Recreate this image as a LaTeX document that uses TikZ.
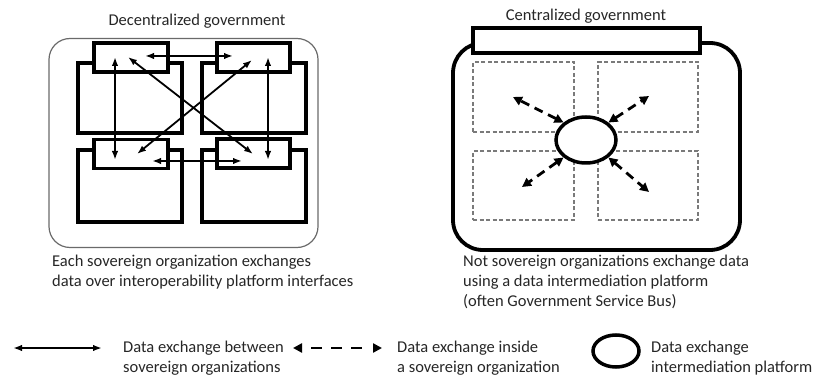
\documentclass[tikz,border=0pt]{standalone}
\usepackage{fontspec}
\setmainfont{Carlito}
\usetikzlibrary{arrows.meta,shapes.misc,shapes.geometric,calc}

\definecolor{inkgray}{HTML}{262626}
\definecolor{framegray}{HTML}{6A6A6A}
\definecolor{dashgray}{HTML}{7A7A7A}

\tikzset{
  label text/.style={font=\fontsize{16.5}{20}\selectfont, text=inkgray, inner sep=0pt},
  caption text/.style={label text, align=left, anchor=north west},
  org body/.style={draw=black, line width=3.8pt, fill=white, inner sep=0pt},
  org tab/.style={draw=black, line width=3.8pt, fill=white, inner sep=0pt,
    chamfered rectangle, chamfered rectangle corners={north west,north east},
    chamfered rectangle xsep=6pt, chamfered rectangle ysep=6pt},
  soft frame/.style={draw=framegray, line width=1.2pt, rounded corners=21pt, inner sep=0pt},
  bold frame/.style={draw=black, line width=3.8pt, rounded corners=30pt, inner sep=0pt},
  sub unit/.style={draw=dashgray, line width=1.1pt, dash pattern=on 4pt off 2.5pt, inner sep=0pt},
  hub/.style={draw=black, line width=3.5pt, ellipse, fill=white, inner sep=0pt},
  link/.style={line width=1.8pt, {Latex[length=9pt,width=6.5pt]}-{Latex[length=9pt,width=6.5pt]}},
  inner link/.style={line width=2.8pt, dash pattern=on 9pt off 6pt,
    {Triangle[length=9pt,width=9pt]}-{Triangle[length=9pt,width=9pt]}},
}

\begin{document}
\begin{tikzpicture}[x=1pt,y=-1pt]
\useasboundingbox (0,0) rectangle (816,379);

% ---------------- decentralized government ----------------
\node[label text] (titleL) at (197,21) {Decentralized government};
\node[soft frame, minimum width=269pt, minimum height=209pt] (frameL) at (183.5,143) {};

% four sovereign organizations: body plus interface tab
\node[org body, minimum width=104pt, minimum height=70pt] (bodyTL) at (130,98) {};
\node[org body, minimum width=104pt, minimum height=70pt] (bodyTR) at (254,98) {};
\node[org body, minimum width=104pt, minimum height=72pt] (bodyBL) at (130,186) {};
\node[org body, minimum width=104pt, minimum height=72pt] (bodyBR) at (254,186) {};
\node[org tab, minimum width=74pt, minimum height=29pt] (tabTL) at (131,57.5) {};
\node[org tab, minimum width=73pt, minimum height=29pt] (tabTR) at (253.5,57.5) {};
\node[org tab, minimum width=74pt, minimum height=29pt] (tabBL) at (131,154) {};
\node[org tab, minimum width=73pt, minimum height=29pt] (tabBR) at (253.5,153.5) {};

% interface end points
\coordinate (tlV) at (115,57);   \coordinate (blV) at (115,160);
\coordinate (trV) at (268,57);   \coordinate (brV) at (268,160);
\coordinate (tlH) at (145,56);   \coordinate (trH) at (233,56);
\coordinate (blH) at (152,161);  \coordinate (brH) at (242,161);
\coordinate (tlD) at (128,57);   \coordinate (brD) at (253,154);
\coordinate (trD) at (252,60);   \coordinate (blD) at (137,154);

\draw[link] (tlV) -- (blV);
\draw[link] (trV) -- (brV);
\draw[link] (tlH) -- (trH);
\draw[link] (blH) -- (brH);
\draw[link] (tlD) -- (brD);
\draw[link] (trD) -- (blD);

\node[caption text] (capL) at (52,255)
  {Each sovereign organization exchanges\\data over interoperability platform interfaces};

% ---------------- centralized government ----------------
\node[label text] (titleR) at (586,16) {Centralized government};
\node[bold frame, minimum width=287pt, minimum height=207pt] (frameR) at (596.5,146.5) {};
\node[org tab, line width=3.8pt, minimum width=227pt, minimum height=25pt,
      chamfered rectangle xsep=5pt, chamfered rectangle ysep=5pt] (bus) at (586.5,40.5) {};

\node[sub unit, minimum width=101pt, minimum height=70pt] (unitTL) at (523.5,97) {};
\node[sub unit, minimum width=100pt, minimum height=70pt] (unitTR) at (648,97) {};
\node[sub unit, minimum width=101pt, minimum height=69pt] (unitBL) at (523.5,185.5) {};
\node[sub unit, minimum width=100pt, minimum height=69pt] (unitBR) at (648,185.5) {};

\node[hub, minimum width=60pt, minimum height=46pt] (platform) at (586,140) {};

\coordinate (pTL) at (513,97);
\coordinate (pTR) at (649,96);
\coordinate (pBL) at (522,187);
\coordinate (pBR) at (649,192);

\draw[inner link] (platform.north west) -- (pTL);
\draw[inner link] (platform.north east) -- (pTR);
\draw[inner link] (platform.south west) -- (pBL);
\draw[inner link] (platform.south east) -- (pBR);

\node[caption text] (capR) at (463,255)
  {Not sovereign organizations exchange data\\using a data intermediation platform\\(often Government Service Bus)};

% ---------------- legend ----------------
\coordinate (lgA1) at (13,348);  \coordinate (lgA2) at (102,348);
\draw[link] (lgA1) -- (lgA2);
\node[caption text, anchor=west] (lgT1) at (123,358) {Data exchange between\\sovereign organizations};

\coordinate (lgB1) at (293,348); \coordinate (lgB2) at (382,348);
\draw[inner link, line width=2.4pt,
      dash pattern=on 0pt off 10pt on 11pt off 9pt on 11pt off 9pt on 11pt off 30pt]
  (lgB1) -- (lgB2);
\node[caption text, anchor=west] (lgT2) at (397,358) {Data exchange inside\\a sovereign organization};

\node[hub, minimum width=46pt, minimum height=32pt] (lgHub) at (616,351) {};
\node[caption text, anchor=west] (lgT3) at (651,358) {Data exchange\\intermediation platform};
\end{tikzpicture}
\end{document}
